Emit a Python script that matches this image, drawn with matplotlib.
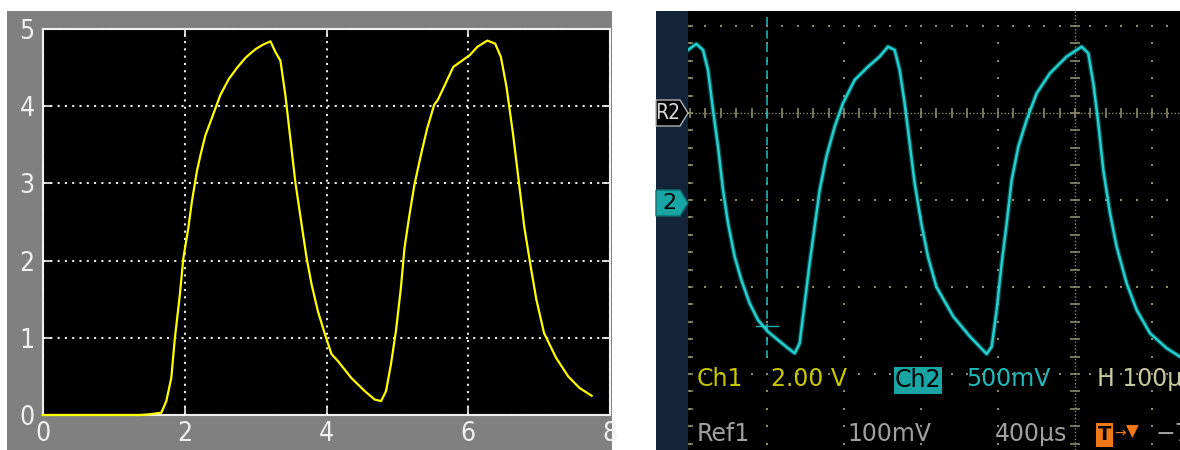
import numpy as np
import matplotlib.pyplot as plt
from matplotlib.patches import Rectangle, Polygon
from matplotlib import font_manager

# Left panel: simulated output (MATLAB style scope)
t_sim = [0, 1.37, 1.51, 1.67, 1.74, 1.81, 1.86, 1.93, 1.98, 2.05, 2.10, 2.17, 2.22, 2.29,
         2.38, 2.50, 2.62, 2.74, 2.86, 3.00, 3.11, 3.21, 3.28, 3.35, 3.42, 3.49, 3.56,
         3.65, 3.72, 3.79, 3.88, 3.98, 4.07, 4.16, 4.35, 4.54, 4.68, 4.77, 4.84, 4.91,
         4.98, 5.05, 5.10, 5.17, 5.24, 5.33, 5.42, 5.52, 5.57, 5.79, 6.02, 6.13, 6.27,
         6.38, 6.46, 6.54, 6.63, 6.71, 6.79, 6.88, 6.96, 7.07, 7.24, 7.41, 7.57, 7.74]
v_sim = [0, 0, 0.01, 0.03, 0.18, 0.48, 0.99, 1.55, 2.03, 2.42, 2.76, 3.15, 3.36, 3.62,
         3.84, 4.14, 4.35, 4.50, 4.63, 4.74, 4.80, 4.84, 4.70, 4.59, 4.14, 3.58, 3.02,
         2.46, 2.03, 1.69, 1.34, 1.04, 0.79, 0.70, 0.48, 0.31, 0.20, 0.18, 0.31, 0.66,
         1.09, 1.65, 2.16, 2.59, 2.98, 3.36, 3.71, 4.02, 4.08, 4.51, 4.66, 4.77, 4.85,
         4.81, 4.64, 4.25, 3.65, 3.05, 2.44, 1.93, 1.50, 1.06, 0.74, 0.50, 0.35, 0.25]
sim_xticks = [0, 2, 4, 6, 8]
sim_yticks = [0, 1, 2, 3, 4, 5]

# Right panel: oscilloscope trace, Ch2 (time in us, volts)
t_scope = [-2.6, 8.2, 16.9, 23.4, 29.9, 36.4, 42.9, 49.4, 58.0, 66.7, 77.5, 88.3, 101.3,
           114.3, 127.3, 136.0, 142.4, 148.9, 155.4, 161.9, 168.4, 177.1, 187.9, 198.7,
           213.9, 231.2, 246.3, 257.1, 265.8, 272.3, 278.8, 285.3, 291.8, 300.4, 309.1,
           319.9, 324.7, 342.0, 363.6, 385.3, 391.8, 398.3, 404.8, 411.3, 417.8, 426.4,
           437.2, 450.2, 467.5, 489.2, 508.7, 517.3, 523.8, 530.3, 536.8, 545.5, 554.1,
           567.1, 580.1, 597.4, 619.1, 636.4]
v_scope = [0.862, 0.897, 0.862, 0.747, 0.517, 0.306, 0.057, -0.134, -0.326, -0.460,
           -0.594, -0.690, -0.757, -0.805, -0.852, -0.881, -0.824, -0.594, -0.364, -0.153,
           0.057, 0.249, 0.421, 0.556, 0.690, 0.766, 0.824, 0.881, 0.862, 0.747, 0.556,
           0.326, 0.096, -0.134, -0.326, -0.498, -0.536, -0.670, -0.785, -0.885, -0.843,
           -0.632, -0.364, -0.134, 0.115, 0.306, 0.460, 0.613, 0.728, 0.824, 0.881, 0.843,
           0.671, 0.441, 0.172, -0.076, -0.268, -0.479, -0.632, -0.766, -0.852, -0.901]
grid_t = [0, 100, 200, 300, 400, 500, 600]
grid_v = [1.0, 0.5, 0.0, -0.5, -1.0]
center_t, center_v = 500, 0.5
cursor_t = 100

W, H = 1180, 450
fx = lambda x: x / W
fy = lambda y: 1 - y / H

# a condensed face for the MATLAB-like tick labels, if one is installed
cond = font_manager.FontProperties(family='DejaVu Sans', stretch='condensed')
has_cond = 'Condensed' in font_manager.findfont(cond)

fig = plt.figure(figsize=(W / 100, H / 100), dpi=100)
fig.patch.set_facecolor('white')

# ---- left panel ----
fig.add_artist(Rectangle((fx(7), 0), fx(612) - fx(7), fy(11), transform=fig.transFigure,
                         facecolor='#808080', edgecolor='none', zorder=-1))
ax1 = fig.add_axes([fx(43), fy(415), fx(610) - fx(43), fy(29) - fy(415)])
ax1.set_facecolor('black')
ax1.plot(t_sim, v_sim, color='#ffff00', lw=1.6, zorder=3, clip_on=False)
ax1.set_xlim(0, 8)
ax1.set_ylim(0, 5)
ax1.set_xticks(sim_xticks)
ax1.set_yticks(sim_yticks)
ax1.grid(True, color='#e8e8e8', linestyle=(0, (1, 2.5)), lw=1.5)
ax1.tick_params(direction='in', length=6, width=1.2, colors='#f0f0f0',
                top=True, right=True, labelsize=19 if has_cond else 17)
ax1.tick_params(axis='x', pad=4)
ax1.tick_params(axis='y', pad=6)
if has_cond:
    for lab in ax1.get_xticklabels() + ax1.get_yticklabels():
        lab.set_fontstretch('condensed')
for sp in ax1.spines.values():
    sp.set_color('#f0f0f0')
    sp.set_linewidth(1.5)

# ---- right panel (scope screen) ----
fig.add_artist(Rectangle((fx(656), 0), fx(688) - fx(656), fy(11), transform=fig.transFigure,
                         facecolor='#13233a', edgecolor='none', zorder=-1))
ax2 = fig.add_axes([fx(688), 0, fx(1180) - fx(688), fy(11)])
ax2.set_facecolor('black')
ax2.set_xlim(-2.6, 636.4)
ax2.set_ylim(-1.437, 1.086)
ax2.set_axis_off()
ax2.add_patch(Rectangle((0, 0), 1, 1, transform=ax2.transAxes, facecolor='black', zorder=0))

gcol = '#8a8a68'
minor_v = np.arange(-1.4, 1.1, 0.1)
minor_t = np.arange(0, 640, 20)
for t in grid_t:
    if t == center_t:
        continue
    ax2.scatter(np.full(len(minor_v), t), minor_v, s=3, marker='s', color=gcol, lw=0, zorder=1)
for v in grid_v:
    if v == center_v:
        continue
    ax2.scatter(minor_t, np.full(len(minor_t), v), s=3, marker='s', color=gcol, lw=0, zorder=1)
# centre crosshair with division ticks
ax2.axvline(center_t, color=gcol, lw=1, linestyle=(0, (1, 1.5)), zorder=1)
ax2.axhline(center_v, color=gcol, lw=1, linestyle=(0, (1, 1.5)), zorder=1)
ax2.plot(np.full(len(minor_v), center_t), minor_v, ls='none', marker='_', ms=7, mew=1.2,
         color=gcol, zorder=1)
ax2.plot(minor_t, np.full(len(minor_t), center_v), ls='none', marker='|', ms=7, mew=1.2,
         color=gcol, zorder=1)
ax2.plot(np.full(len(minor_v), 0), minor_v, ls='none', marker='_', ms=5, mew=1.2,
         color=gcol, zorder=1)

# cursor
ax2.plot([cursor_t, cursor_t], [1.05, -0.91], color='#20b0b0', lw=1.2, ls=(0, (5, 3)), zorder=2)
ax2.plot([cursor_t - 14, cursor_t + 14], [-0.724, -0.724], color='#20b0b0', lw=1, zorder=2)

# trace
ax2.plot(t_scope, v_scope, color='#1ec8c8', lw=3.6, alpha=0.35, solid_joinstyle='round', zorder=3)
ax2.plot(t_scope, v_scope, color='#22d0d0', lw=1.8, solid_joinstyle='round', zorder=4)

# channel markers
fig.add_artist(Polygon([(fx(656), fy(100)), (fx(680), fy(100)), (fx(688), fy(113)),
                        (fx(680), fy(126)), (fx(656), fy(126))], closed=True,
                       transform=fig.transFigure, facecolor='black', edgecolor='#b0b0b0',
                       lw=1, zorder=5))
fig.text(fx(668), fy(113), 'R2', color='#d8d8d8', fontsize=15, stretch='condensed',
         ha='center', va='center', zorder=6)
fig.add_artist(Polygon([(fx(656), fy(190)), (fx(680), fy(190)), (fx(688), fy(203)),
                        (fx(680), fy(216)), (fx(656), fy(216))], closed=True,
                       transform=fig.transFigure, facecolor='#1aa5a5', edgecolor='#0f7070',
                       lw=1, zorder=5))
fig.text(fx(669), fy(203), '2', color='black', fontsize=16, ha='center', va='center', zorder=6)

# readouts
fs = 17
fig.text(fx(697), fy(379), 'Ch1', color='#c8c800', fontsize=fs, va='center', zorder=6)
fig.text(fx(771), fy(379), '2.00 V', color='#c8c800', fontsize=fs, va='center', zorder=6)
fig.add_artist(Rectangle((fx(894), fy(394)), fx(942) - fx(894), fy(367) - fy(394),
                         transform=fig.transFigure, facecolor='#1aa5a5', edgecolor='none', zorder=5))
fig.text(fx(918), fy(380), 'Ch2', color='black', fontsize=fs, ha='center', va='center', zorder=6)
fig.text(fx(966), fy(379), '500mV', color='#20b8b8', fontsize=fs, va='center', zorder=6)
fig.text(fx(1097), fy(379), 'H 100µs', color='#c8c8a0', fontsize=fs, va='center', zorder=6)

fig.text(fx(697), fy(434), 'Ref1', color='#a0a0a0', fontsize=fs, va='center', zorder=6)
fig.text(fx(847), fy(434), '100mV', color='#a0a0a0', fontsize=fs, va='center', zorder=6)
fig.text(fx(995), fy(434), '400µs', color='#a0a0a0', fontsize=fs, va='center', zorder=6)
fig.add_artist(Rectangle((fx(1096), fy(447)), fx(1113) - fx(1096), fy(423) - fy(447),
                         transform=fig.transFigure, facecolor='#f07818', edgecolor='none', zorder=5))
fig.text(fx(1104.5), fy(435), 'T', color='black', fontsize=14, weight='bold',
         ha='center', va='center', zorder=6)
fig.text(fx(1114), fy(433), '→', color='#f07818', fontsize=10, va='center', zorder=6)
fig.text(fx(1126), fy(432), '▼', color='#f07818', fontsize=12, va='center', zorder=6)
fig.text(fx(1155), fy(434), '−7', color='#a0a0a0', fontsize=fs, va='center', zorder=6)

fig.savefig('out.png', dpi=100, facecolor='white')
